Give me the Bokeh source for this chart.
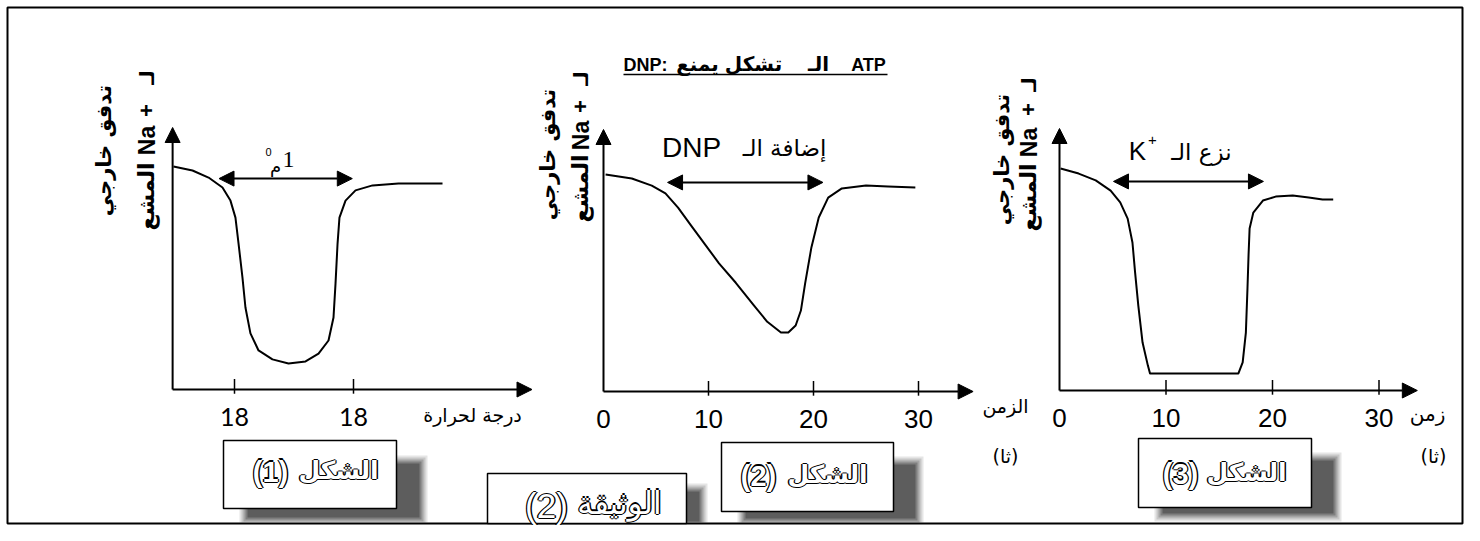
import numpy as np
from bokeh.plotting import figure
from bokeh.models import Range1d, Arrow, NormalHead
from bokeh.core.properties import value
from bokeh.embed import file_html
from bokeh.resources import INLINE

# ---------------- data ----------------
# Figure 1 : outward flux of radioactive Na+ versus temperature
p1_temp = [17.487, 17.647, 17.782, 17.899, 17.966, 18.008, 18.034, 18.067, 18.092,
           18.134, 18.202, 18.319, 18.454, 18.597, 18.706, 18.790, 18.832, 18.849,
           18.866, 18.882, 18.933, 19.017, 19.160, 19.378, 19.748]
p1_flux = [85.1, 83.6, 80.9, 77.1, 72.1, 65.6, 55.7, 42.7, 31.3, 21.4, 14.9, 11.5,
           9.9, 10.7, 13.7, 18.7, 27.5, 40.5, 55.7, 65.6, 72.1, 76.0, 77.9, 78.6, 78.6]
p1_ticks = [18, 19]
p1_tick_labels = ["18", "18"]
p1_treat = [17.87, 18.99]          # 1 °C interval
p1_treat_level = 80.5

# Figure 2 : DNP addition, flux versus time (s)
p2_time = [0.2, 2.7, 4.6, 5.9, 7.1, 8.4, 9.7, 11.0, 12.6, 14.3, 15.6, 16.9, 17.6,
           18.3, 18.8, 19.2, 19.8, 20.5, 21.4, 22.7, 25.0, 27.1, 29.7]
p2_flux = [82.8, 81.3, 78.6, 75.6, 70.2, 63.0, 56.0, 48.9, 41.5, 33.0, 26.6, 22.5,
           22.5, 25.2, 30.9, 41.2, 55.0, 66.4, 74.0, 77.5, 78.6, 78.2, 77.9]
p2_ticks = [10, 20, 30]
p2_tick_labels = ["10", "20", "30"]
p2_treat = [6.1, 20.9]
p2_treat_level = 79.8

# Figure 3 : K+ removal, flux versus time (s)
p3_time = [0.1, 1.8, 3.4, 4.8, 5.7, 6.4, 6.85, 7.1, 7.4, 7.8, 8.3, 8.5, 16.8, 17.2,
           17.5, 17.65, 17.75, 17.85, 18.2, 19.1, 20.3, 21.9, 23.4, 24.7, 25.7]
p3_flux = [84.7, 82.8, 80.2, 76.3, 71.8, 65.6, 56.5, 45.0, 32.4, 18.3, 9.5, 6.5, 6.5,
           10.7, 22.1, 38.9, 51.5, 61.8, 67.9, 72.5, 74.0, 74.4, 73.7, 72.9, 72.9]
p3_ticks = [10, 20, 30]
p3_tick_labels = ["10", "20", "30"]
p3_treat = [5.07, 19.15]
p3_treat_level = 79.8

zero_labels = ["0"]

# ---------------- figure ----------------
W, H = 1464, 525
p = figure(width=W, height=H, x_range=Range1d(0, W), y_range=Range1d(0, H),
           output_backend="svg", toolbar_location=None, min_border=0,
           x_axis_location=None, y_axis_location=None,
           background_fill_color="white", border_fill_color="white")
p.grid.visible = False
p.outline_line_color = None


def Y(py):
    """pixel row (from top) -> plot y"""
    return H - py


# panel placement: (x value, its pixel column, px per x unit, pixel row of y=0, px per y unit)
panels = {
    "p1": (18, 234, 119.0, 389, 2.62),
    "p2": (0, 603, 10.5, 391, 2.62),
    "p3": (0, 1059, 10.65, 390, 2.62),
}
xr, yr = {}, {}
for name, (xv, xpx, kx, y0, ky) in panels.items():
    xr[name] = Range1d(xv + (0 - xpx) / kx, xv + (W - xpx) / kx)
    yr[name] = Range1d((y0 - H) / ky, y0 / ky)
p.extra_x_ranges = xr
p.extra_y_ranges = yr

AR = value("DejaVu Sans")
LAT = value("Liberation Sans")


def txt(x, y, s, size, font=AR, bold=False, align="center", angle=0.0,
        color="black", xo=0, yo=0, rng=None):
    kw = {}
    if rng:
        kw = dict(x_range_name=rng, y_range_name=rng)
    p.text(x=[x], y=[y], text=[s], text_font=font, text_font_size=f"{size}px",
           text_font_style="bold" if bold else "normal", text_align=align,
           text_baseline="middle", angle=angle, text_color=color,
           x_offset=xo, y_offset=yo, **kw)


def outlined(x, py, s, size, font=AR, bold=True):
    d = 1.4
    for dx, dy in [(-d, 0), (d, 0), (0, -d), (0, d)]:
        txt(x, Y(py), s, size, font=font, bold=bold, xo=dx, yo=dy)
    txt(x, Y(py), s, size, font=font, bold=bold, color="white")


# ---------- outer frame ----------
p.quad(left=7, right=1462, top=Y(7), bottom=Y(523), fill_color=None,
       line_color="black", line_width=2)


# ---------- panels ----------
def draw_panel(name, xs, ys, ticks, tick_labels, treat, level, x_origin, x_end,
               tick_font, tick_size):
    kw = dict(x_range_name=name, y_range_name=name)
    p.add_layout(Arrow(end=NormalHead(size=15, fill_color="black", line_color="black"),
                       x_start=x_origin, y_start=0, x_end=x_origin, y_end=100,
                       line_width=2, **kw))
    p.add_layout(Arrow(end=NormalHead(size=15, fill_color="black", line_color="black"),
                       x_start=x_origin, y_start=0, x_end=x_end, y_end=0,
                       line_width=2, **kw))
    p.segment(x0=ticks, y0=[-1.6] * len(ticks), x1=ticks, y1=[4.0] * len(ticks),
              line_color="black", line_width=1.5, **kw)
    p.text(x=ticks, y=[0] * len(ticks), text=tick_labels, text_font=tick_font,
           text_font_size=f"{tick_size}px", text_align="center",
           text_baseline="middle", y_offset=27, text_color="black", **kw)
    p.line(xs, ys, line_color="black", line_width=2, line_join="round", **kw)
    p.add_layout(Arrow(start=NormalHead(size=15, fill_color="black", line_color="black"),
                       end=NormalHead(size=15, fill_color="black", line_color="black"),
                       x_start=treat[0], y_start=level, x_end=treat[1], y_end=level,
                       line_width=2, **kw))


draw_panel("p1", p1_temp, p1_flux, p1_ticks, p1_tick_labels, p1_treat, p1_treat_level,
           17.48, 20.5, value("Lato"), 25)
draw_panel("p2", p2_time, p2_flux, p2_ticks, p2_tick_labels, p2_treat, p2_treat_level,
           0, 35.2, LAT, 26)
draw_panel("p3", p3_time, p3_flux, p3_ticks, p3_tick_labels, p3_treat, p3_treat_level,
           0, 33.6, LAT, 26)
for name in ("p2", "p3"):
    p.text(x=[0], y=[0], text=zero_labels, text_font=LAT, text_font_size="26px",
           text_align="center", text_baseline="middle", y_offset=27,
           x_range_name=name, y_range_name=name)

# ---------- y-axis titles (rotated) ----------
rot = np.pi / 2
for (c1x, c1y, c2x, ly, py_, nay, mshy) in [(103, 150, 146, 77, 110, 140, 196),
                                            (547, 154, 580, 78, 106, 135, 188),
                                            (1001, 159, 1028, 84, 109, 142, 197)]:
    txt(c1x, Y(c1y), "تدفق خارجي", 21, bold=True, angle=rot)
    txt(c2x, Y(ly), "لـ", 20, bold=True, angle=rot)
    txt(c2x, Y(py_), "+", 22, font=LAT, bold=True, angle=rot)
    txt(c2x, Y(nay), "Na", 23, font=LAT, bold=True, angle=rot)
    txt(c2x, Y(mshy), "المشع", 22, bold=True, angle=rot)

# ---------- x-axis titles ----------
txt(472, Y(414), "درجة لحرارة", 19)
txt(1005, Y(405), "الزمن", 19)
txt(1005, Y(455), "(ثا)", 19)
txt(1427, Y(413), "زمن", 20)
txt(1433, Y(455), "(ثا)", 19)

# ---------- interval labels ----------
txt(288, Y(159), "1", 24, font=value("Liberation Serif"))
txt(275, Y(166), "م", 18)
txt(268, Y(151), "0", 11, font=LAT)

txt(691, Y(147), "DNP", 28, font=LAT)
txt(784, Y(147), "إضافة الـ", 23)

txt(1137, Y(150), "K", 26, font=LAT)
txt(1152, Y(139), "+", 15, font=LAT)
txt(1201, Y(151), "نزع الـ", 23)

# ---------- title ----------
txt(645, Y(64), "DNP:", 18, font=LAT, bold=True)
txt(697, Y(63), "يمنع", 20, bold=True)
txt(753, Y(63), "تشكل", 20, bold=True)
txt(818, Y(63), "الـ", 20, bold=True)
txt(868, Y(64), "ATP", 18, font=LAT, bold=True)
p.segment(x0=[623], y0=[Y(74)], x1=[887], y1=[Y(74)], line_color="black", line_width=1.6)


# ---------- caption boxes with soft shadows ----------
def shadow(l, r, t, b):
    for e, a in [(7, 0.12), (5, 0.16), (3, 0.22), (1, 0.3), (-1, 0.4)]:
        p.quad(left=l - e, right=r + e, top=Y(t - e), bottom=Y(min(b + e, 522)),
               fill_color="#2a2a2a", fill_alpha=a, line_color=None)


def box(l, r, t, b):
    p.quad(left=l, right=r, top=Y(t), bottom=Y(b), fill_color="white",
           line_color="black", line_width=1.5)


shadow(246, 420, 462, 518)
box(223, 396, 440, 508)
shadow(744, 916, 463, 519)
box(721, 893, 442, 511)
shadow(1161, 1334, 459, 514)
box(1138, 1311, 438, 507)
shadow(508, 700, 490, 522)
box(487, 686, 473, 523)

outlined(270, 471, "(1)", 29, font=LAT)
outlined(338, 470, "الشكل", 25)
outlined(758, 475, "(2)", 29, font=LAT)
outlined(827, 474, "الشكل", 25)
outlined(1180, 473, "(3)", 29, font=LAT)
outlined(1246, 472, "الشكل", 25)
outlined(546, 505, "(2)", 35, font=LAT, bold=False)
outlined(619, 502, "الوثيقة", 31, bold=False)

open("out.html", "w").write(file_html(p, INLINE))
